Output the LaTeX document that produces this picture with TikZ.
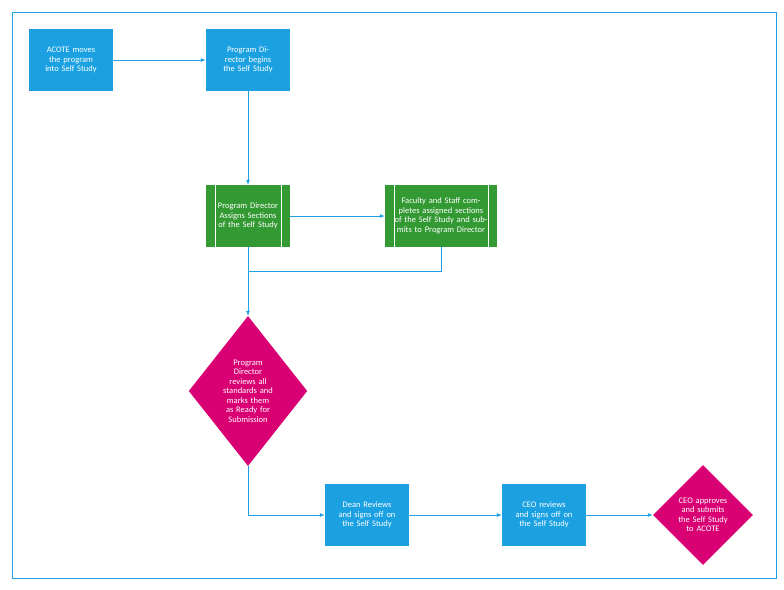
\documentclass[tikz,border=0pt]{standalone}
\usepackage{fontspec}
\setmainfont{Carlito}
\usetikzlibrary{shapes.geometric, arrows, arrows.meta, positioning, calc}
\definecolor{stepblue}{HTML}{1BA1E2}
\definecolor{stepgreen}{HTML}{339933}
\definecolor{stepmagenta}{HTML}{D80073}
\tikzstyle{arrow} = [draw=stepblue, line width=0.8pt, -{Latex[length=5pt,width=4pt]}]
\tikzstyle{line} = [draw=stepblue, line width=0.8pt]
\tikzstyle{process} = [rectangle, minimum width=84pt, minimum height=62pt, text width=74pt, align=center, fill=stepblue, text=white, font=\fontsize{8.5}{9.5}\selectfont, inner sep=1pt]
\tikzstyle{task} = [process, fill=stepgreen, path picture={
    \draw[white, line width=0.6pt] ([xshift=9pt]path picture bounding box.north west) -- ([xshift=9pt]path picture bounding box.south west);
    \draw[white, line width=0.6pt] ([xshift=-9pt]path picture bounding box.north east) -- ([xshift=-9pt]path picture bounding box.south east);}]
\tikzstyle{decision} = [diamond, fill=stepmagenta, text=white, align=center, font=\fontsize{8.5}{9.5}\selectfont, inner sep=0pt]
\begin{document}
\begin{tikzpicture}[x=1pt, y=-1pt]
    \useasboundingbox (0,0) rectangle (784,589);
    % Frame
    \draw[stepblue, line width=0.8pt] (12,12) rectangle (776,578);
    % Steps
    \node[process] (moves) at (71,60) {ACOTE moves the program into Self Study};
    \node[process] (begins) at (248,60) {Program Director begins the Self Study};
    \node[task, text width=62pt] (assigns) at (248,216) {Program Director Assigns Sections of the Self Study};
    \node[task, minimum width=112pt, text width=94pt] (completes) at (441,216) {Faculty and Staff completes assigned sections of the Self Study and submits to Program Director};
    \node[decision, minimum width=100pt, minimum height=150pt, text width=56pt] (reviews) at (248,391) {Program Director reviews all standards and marks them as Ready for Submission};
    \node[process] (dean) at (367,515) {Dean Reviews and signs off on the Self Study};
    \node[process] (ceo) at (544,515) {CEO reviews and signs off on the Self Study};
    \node[decision, minimum width=100pt, minimum height=100pt, text width=56pt] (approves) at (703,515) {CEO approves and submits the Self Study\\ to ACOTE};
    \coordinate (join) at (248,271);
    % Arrows
    \draw[arrow] (moves) -- (begins);
    \draw[arrow] (begins) -- (assigns);
    \draw[arrow] (assigns) -- (completes);
    \draw[line] (completes.south) |- (join);
    \draw[arrow] (assigns) -- (reviews);
    \draw[arrow] (reviews.south) |- (dean.west);
    \draw[arrow] (dean) -- (ceo);
    \draw[arrow] (ceo) -- (approves);
\end{tikzpicture}
\end{document}
